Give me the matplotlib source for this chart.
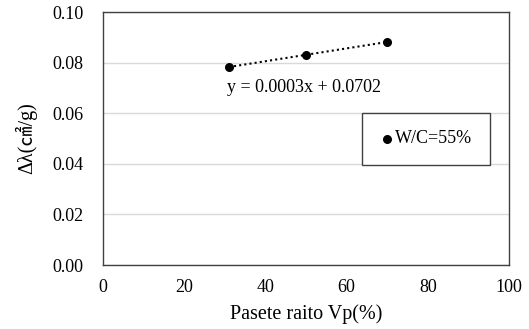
import matplotlib.pyplot as plt
import numpy as np

# data
paste_ratio = [31, 50, 70]
delta_lambda = [0.0783, 0.0830, 0.0882]
series_label = 'W/C=55%'
trend_label = 'y = 0.0003x + 0.0702'
x_ticks = [0, 20, 40, 60, 80, 100]
y_ticks = [0.00, 0.02, 0.04, 0.06, 0.08, 0.10]

plt.rcParams['font.family'] = ['Liberation Serif', 'Noto Sans CJK JP', 'DejaVu Sans']
plt.rcParams['font.size'] = 13

fig = plt.figure(figsize=(5.29, 3.29), dpi=100)
ax = fig.add_axes([0.1947, 0.1945, 0.7675, 0.769])

ax.scatter(paste_ratio, delta_lambda, s=30, color='black', zorder=3, label=series_label)

# linear trendline over the data range
coef = np.polyfit(paste_ratio, delta_lambda, 1)
xs = np.array([paste_ratio[0], paste_ratio[-1]])
ax.plot(xs, np.polyval(coef, xs), color='black', linestyle=(0, (1, 1.5)), linewidth=1.5, zorder=2)
ax.text(30.5, 0.0700, trend_label, ha='left', va='center', fontsize=13)

ax.set_xlim(0, 100)
ax.set_ylim(0, 0.10)
ax.set_xticks(x_ticks)
ax.set_yticks(y_ticks)
ax.set_yticklabels([f'{v:.2f}' for v in y_ticks])
ax.tick_params(axis='y', length=0, pad=14, labelsize=13)
ax.tick_params(axis='x', length=0, pad=10, labelsize=13)
ax.grid(axis='y', color='#d9d9d9', linewidth=1)
ax.set_axisbelow(True)
for s in ax.spines.values():
    s.set_color('#404040')
    s.set_linewidth(1)

ax.set_xlabel('Pasete raito Vp(%)', fontsize=14.5, labelpad=6)
ax.set_ylabel('Δλ(㎠/g)', fontsize=14.5, labelpad=11)

leg = ax.legend(loc='upper left', bbox_to_anchor=(0.638, 0.60), fancybox=False,
                edgecolor='#404040', framealpha=1, handletextpad=0.0, handlelength=0.9,
                borderpad=0.95, borderaxespad=0, fontsize=13, markerscale=1)
leg.get_frame().set_linewidth(1)

plt.savefig('out.png', dpi=100)
